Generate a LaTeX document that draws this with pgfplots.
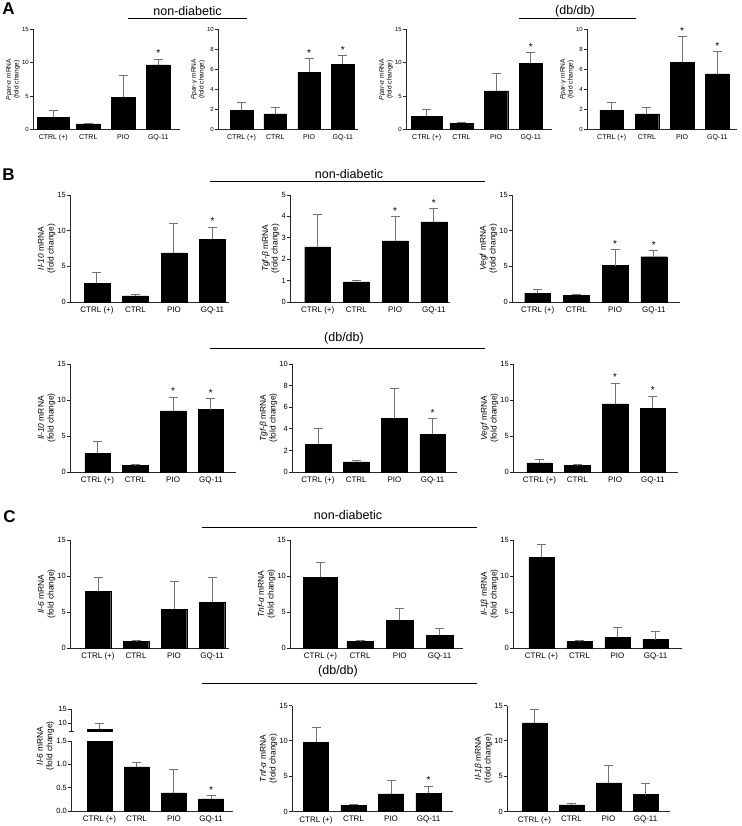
\documentclass[border=0pt]{standalone}
\usepackage{fontspec}
\setmainfont{Liberation Sans}
\usepackage{pgfplots}
\pgfplotsset{compat=1.18}

\pgfplotsset{
  panel/.style={
    scale only axis, anchor=south west, clip=false,
    axis x line*=bottom, axis y line*=left,
    axis line style={-, line width=0.9pt, black!85},
    enlargelimits=false, ymin=0,
    xtick={0,1,2,3}, xticklabels={CTRL (+),CTRL,PIO,GQ-11},
    xtick style={draw=none},
    ytick style={black!85, line width=0.8pt},
    tick align=outside, major tick length=3pt,
    /pgf/number format/assume math mode=true,
    yticklabel style={font=\fontsize{7.5}{8}\selectfont, inner sep=1pt},
    xticklabel style={font=\fontsize{8}{9}\selectfont, inner sep=1.5pt},
    ylabel style={font=\fontsize{8.4}{9.6}\selectfont, align=center, inner sep=1pt},
  },
  small/.style={
    yticklabel style={font=\fontsize{6}{7}\selectfont},
    xticklabel style={font=\fontsize{7}{8}\selectfont},
    ylabel style={font=\fontsize{6.6}{7.6}\selectfont},
  },
  bars/.style={ybar, bar width=0.67, fill=black, draw=black, line width=0.4pt,
    error bars/y dir=plus, error bars/y explicit,
    error bars/error bar style={black!55, line width=1pt},
    error bars/error mark options={rotate=90, black!55, line width=1pt, mark size=4.5pt}},
  stars/.style={draw=none, nodes near coords, point meta=explicit symbolic,
    every node near coord/.append style={anchor=south, inner sep=1pt, yshift=1pt,
      font=\fontsize{10}{11}\selectfont}},
}

\begin{document}
\begin{tikzpicture}
% ---------------- A ----------------
\begin{axis}[panel, small, at={(33pt,-129.5pt)}, width=147pt, height=100pt,
  xmin=-0.579, xmax=3.621, ymax=15, ytick={0,5,10,15},
  ylabel={\textit{Ppar-α} mRNA\\(fold change)}]
  \addplot[bars, bar width=0.92] coordinates {(0,1.85) +- (0,1.05)};
  \addplot[bars] coordinates {(1,0.85) +- (0,0.1) (2,4.8) +- (0,3.35) (3,9.7) +- (0,0.85)};
  \addplot[stars] coordinates {(3,10.55)[*]};
\end{axis}
\begin{axis}[panel, small, at={(218pt,-129.5pt)}, width=140pt, height=100pt,
  xmin=-0.695, xmax=3.447, ymax=10, ytick={0,2,4,6,8,10},
  ylabel={\textit{Ppar-γ} mRNA\\(fold change)}]
  \addplot[bars] coordinates {(0,1.9) +- (0,0.8) (1,1.55) +- (0,0.65) (2,5.7) +- (0,1.4) (3,6.5) +- (0,0.9)};
  \addplot[stars] coordinates {(2,7.1)[*] (3,7.4)[*]};
\end{axis}
\begin{axis}[panel, small, at={(406pt,-129.5pt)}, width=146pt, height=100pt,
  xmin=-0.597, xmax=3.611, ymax=15, ytick={0,5,10,15},
  ylabel={\textit{Ppar-α} mRNA\\(fold change)}]
  \addplot[bars, bar width=0.92] coordinates {(0,1.95) +- (0,1.0)};
  \addplot[bars] coordinates {(1,0.9) +- (0,0.15) (2,5.8) +- (0,2.55) (3,9.95) +- (0,1.55)};
  \addplot[stars] coordinates {(3,11.5)[*]};
\end{axis}
\begin{axis}[panel, small, at={(587pt,-129.5pt)}, width=150pt, height=100pt,
  xmin=-0.702, xmax=3.56, ymax=10, ytick={0,2,4,6,8,10},
  ylabel={\textit{Ppar-γ} mRNA\\(fold change)}]
  \addplot[bars] coordinates {(0,1.9) +- (0,0.8) (1,1.55) +- (0,0.65) (2,6.7) +- (0,2.55) (3,5.55) +- (0,2.2)};
  \addplot[stars] coordinates {(2,9.25)[*] (3,7.75)[*]};
\end{axis}
% ---------------- B ----------------
\begin{axis}[panel, at={(70pt,-302pt)}, width=159pt, height=107pt,
  xmin=-0.701, xmax=3.429, ymax=15, ytick={0,5,10,15},
  ylabel={\textit{Il-10} mRNA\\(fold change)}]
  \addplot[bars] coordinates {(0,2.6) +- (0,1.6) (1,0.87) +- (0,0.18) (2,6.9) +- (0,4.1) (3,8.8) +- (0,1.7)};
  \addplot[stars] coordinates {(3,10.5)[*]};
\end{axis}
\begin{axis}[panel, at={(290pt,-302pt)}, width=160pt, height=107pt,
  xmin=-0.716, xmax=3.419, ymax=5, ytick={0,1,2,3,4,5},
  ylabel={\textit{Tgf-β} mRNA\\(fold change)}]
  \addplot[bars] coordinates {(0,2.58) +- (0,1.5) (1,0.94) +- (0,0.07) (2,2.86) +- (0,1.12) (3,3.75) +- (0,0.63)};
  \addplot[stars] coordinates {(2,3.98)[*] (3,4.38)[*]};
\end{axis}
\begin{axis}[panel, at={(512pt,-302pt)}, width=168pt, height=107pt,
  xmin=-0.664, xmax=3.677, ymax=15, ytick={0,5,10,15},
  ylabel={\textit{Vegf} mRNA\\(fold change)}]
  \addplot[bars] coordinates {(0,1.26) +- (0,0.5) (1,0.92) +- (0,0.14) (2,5.1) +- (0,2.2) (3,6.35) +- (0,0.85)};
  \addplot[stars] coordinates {(2,7.3)[*] (3,7.2)[*]};
\end{axis}
\begin{axis}[panel, at={(70pt,-472pt)}, width=166pt, height=108pt,
  xmin=-0.727, xmax=3.664, ymax=15, ytick={0,5,10,15},
  ylabel={\textit{Il-10} mRNA\\(fold change)}]
  \addplot[bars] coordinates {(0,2.6) +- (0,1.62) (1,0.88) +- (0,0.14) (2,8.5) +- (0,1.9) (3,8.66) +- (0,1.54)};
  \addplot[stars] coordinates {(2,10.4)[*] (3,10.2)[*]};
\end{axis}
\begin{axis}[panel, at={(292pt,-472pt)}, width=165pt, height=108pt,
  xmin=-0.681, xmax=3.639, ymax=10, ytick={0,2,4,6,8,10},
  ylabel={\textit{Tgf-β} mRNA\\(fold change)}]
  \addplot[bars] coordinates {(0,2.55) +- (0,1.5) (1,0.93) +- (0,0.09) (2,4.97) +- (0,2.78) (3,3.48) +- (0,1.46)};
  \addplot[stars] coordinates {(3,4.94)[*]};
\end{axis}
\begin{axis}[panel, at={(513pt,-472pt)}, width=165pt, height=108pt,
  xmin=-0.701, xmax=3.664, ymax=15, ytick={0,5,10,15},
  ylabel={\textit{Vegf} mRNA\\(fold change)}]
  \addplot[bars] coordinates {(0,1.26) +- (0,0.46) (1,0.88) +- (0,0.1) (2,9.45) +- (0,2.9) (3,8.88) +- (0,1.65)};
  \addplot[stars] coordinates {(2,12.35)[*] (3,10.53)[*]};
\end{axis}
% ---------------- C ----------------
\begin{axis}[panel, at={(70pt,-648pt)}, width=159pt, height=108pt,
  xmin=-0.737, xmax=3.447, ymax=15, ytick={0,5,10,15},
  ylabel={\textit{Il-6} mRNA\\(fold change)}]
  \addplot[bars] coordinates {(0,7.9) +- (0,1.9) (1,0.93) +- (0,0.09) (2,5.4) +- (0,3.9) (3,6.36) +- (0,3.44)};
\end{axis}
\begin{axis}[panel, at={(290pt,-648pt)}, width=173pt, height=108pt,
  xmin=-0.766, xmax=3.592, ymax=15, ytick={0,5,10,15},
  ylabel={\textit{Tnf-α} mRNA\\(fold change)}]
  \addplot[bars, bar width=0.86] coordinates {(0,9.85) +- (0,2.0)};
  \addplot[bars] coordinates {(1,0.93) +- (0,0.09) (2,3.85) +- (0,1.63) (3,1.76) +- (0,0.93)};
\end{axis}
\begin{axis}[panel, at={(513pt,-648pt)}, width=169pt, height=108pt,
  xmin=-0.75, xmax=3.697, ymax=15, ytick={0,5,10,15},
  ylabel={\textit{Il-1β} mRNA\\(fold change)}]
  \addplot[bars] coordinates {(0,12.6) +- (0,1.8) (1,0.93) +- (0,0.09) (2,1.49) +- (0,1.34) (3,1.16) +- (0,1.07)};
\end{axis}
% broken axis, lower part
\begin{axis}[panel, clip=true, at={(71pt,-811pt)}, width=162pt, height=70pt,
  xmin=-0.766, xmax=3.589, ymax=1.5, ytick={0,0.5,1,1.5},
  yticklabel style={/pgf/number format/fixed, /pgf/number format/fixed zerofill,
    /pgf/number format/precision=1},
  every axis y label/.append style={at={(ticklabel cs:0.93)}},
  ylabel={\textit{Il-6} mRNA\\(fold change)}]
  \addplot[bars] coordinates {(0,7.9) (1,0.945) +- (0,0.085) (2,0.39) +- (0,0.5) (3,0.26) +- (0,0.075)};
  \addplot[stars] coordinates {(3,0.335)[*]};
\end{axis}
% broken axis, upper part
\begin{axis}[panel, clip=true, at={(71pt,-731pt)}, width=162pt, height=22pt,
  axis x line=none, xtick=\empty,
  xmin=-0.766, xmax=3.589, ymin=7.3, ymax=15, ytick={10,15},
  extra y ticks={7.3}, extra y tick labels={},
  extra y tick style={tick align=center, major tick length=5pt}]
  \addplot[bars] coordinates {(0,7.9) +- (0,1.9)};
\end{axis}
\begin{axis}[panel, at={(292pt,-811.5pt)}, width=161pt, height=106pt,
  xmin=-0.64, xmax=3.653, ymax=15, ytick={0,5,10,15},
  ylabel={\textit{Tnf-α} mRNA\\(fold change)}]
  \addplot[bars] coordinates {(0,9.8) +- (0,2.1) (1,0.9) +- (0,0.1) (2,2.5) +- (0,1.9) (3,2.55) +- (0,1.05)};
  \addplot[stars] coordinates {(3,3.6)[*]};
\end{axis}
\begin{axis}[panel, at={(507pt,-811.5pt)}, width=163pt, height=106pt,
  xmin=-0.743, xmax=3.662, ymax=15, ytick={0,5,10,15},
  ylabel={\textit{Il-1β} mRNA\\(fold change)}]
  \addplot[bars] coordinates {(0,12.55) +- (0,1.85) (1,0.94) +- (0,0.14) (2,4.06) +- (0,2.44) (3,2.4) +- (0,1.5)};
\end{axis}
% ---------------- headers ----------------
\begin{scope}[every node/.style={font=\fontsize{12.5}{14}\selectfont}]
  \node at (187.5pt,-11.5pt) {non-diabetic};
  \node at (575pt,-11.5pt) {(db/db)};
  \node at (349pt,-174pt) {non-diabetic};
  \node at (344pt,-338pt) {(db/db)};
  \node at (348pt,-515.5pt) {non-diabetic};
  \node at (338pt,-671pt) {(db/db)};
\end{scope}
\draw[line width=1pt] (128pt,-19pt) -- (247pt,-19pt);
\draw[line width=1pt] (519pt,-19pt) -- (636pt,-19pt);
\draw[line width=1pt] (210pt,-182pt) -- (485pt,-182pt);
\draw[line width=1pt] (210pt,-348pt) -- (485pt,-348pt);
\draw[line width=1pt] (202pt,-527pt) -- (477pt,-527pt);
\draw[line width=1pt] (202pt,-683pt) -- (477pt,-683pt);
\begin{scope}[every node/.style={font=\fontsize{17}{18}\selectfont\bfseries}]
  \node at (8.5pt,-9pt) {A};
  \node at (8.5pt,-174.5pt) {B};
  \node at (9.5pt,-516.5pt) {C};
\end{scope}
\pgfresetboundingbox
\path[use as bounding box] (0,0) rectangle (741pt,-826pt);
\end{tikzpicture}
\end{document}
